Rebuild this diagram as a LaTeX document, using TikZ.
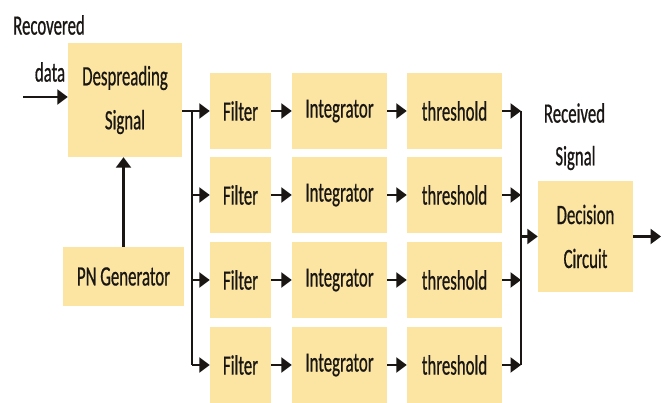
\documentclass[tikz,border=0pt]{standalone}
\usepackage{fontspec}
\setmainfont{Carlito}[FakeStretch=0.6,FakeBold=0.6]
\usetikzlibrary{arrows.meta,calc}
\definecolor{boxfill}{RGB}{252,229,162}
\definecolor{ink}{RGB}{25,22,20}
\begin{document}
\begin{tikzpicture}[x=1pt,y=1pt,
  blk/.style={fill=boxfill,draw=none,inner sep=0pt,text=ink,align=center,
    font=\fontsize{28}{44}\selectfont},
  lbl/.style={inner sep=0pt,text=ink,font=\fontsize{28}{30}\selectfont},
  wire/.style={line width=2.3pt,draw=ink},
  arr/.style={wire,-{Triangle[length=10.5pt,width=15pt]}}]
\useasboundingbox (0,0) rectangle (662,403);
% blocks (image y flipped: Y = 403 - y)
\node[blk,minimum width=114pt,minimum height=114pt] (desp) at (125,303) {\raisebox{-4pt}{\parbox{114pt}{\centering Despreading\\Signal}}};
\node[blk,minimum width=121pt,minimum height=59pt] (pn) at (123.5,126.5) {PN Generator};
\foreach \i/\y in {1/292,2/208,3/123,4/38}{
  \node[blk,minimum width=61pt,minimum height=76pt] (f\i) at (240.5,\y) {Filter};
  \node[blk,minimum width=95pt,minimum height=76pt] (n\i) at (339.5,\y) {Integrator};
  \node[blk,minimum width=95pt,minimum height=76pt] (t\i) at (454.5,\y) {threshold};
}
\node[blk,minimum width=95pt,minimum height=111pt] (dec) at (585.5,166.5) {Decision\\Circuit};
% labels
\node[lbl] (rec) at (49,378) {Recovered};
\node[lbl] (dat) at (50,331) {data};
\node[lbl] (rcv) at (574.5,290) {Received};
\node[lbl] (sig) at (575.5,245) {Signal};
% helper coordinates
\coordinate (in) at (23,306);
\coordinate (bx) at (192,0);
\coordinate (cx) at (521,0);
\coordinate (out) at (661,0);
% connectors
\draw[arr] (in) -- (in -| desp.west);
\draw[arr] (pn.north) -- (pn.north |- desp.south);
\draw[wire] (desp.east |- f1.west) -- (bx |- f1.west);
\draw[wire] (bx |- f1.west) -- (bx |- f4.west);
\foreach \i in {1,2,3,4}{
  \draw[arr] (bx |- f\i.west) -- (f\i.west);
  \draw[arr] (f\i.east) -- (n\i.west);
  \draw[arr] (n\i.east) -- (t\i.west);
  \draw[arr] (t\i.east) -- (cx |- t\i.east);
}
\draw[wire] (cx |- t1.east) -- (cx |- t4.east);
\draw[arr] (cx |- dec.west) -- (dec.west);
\draw[arr] (dec.east) -- (out |- dec.east);
\end{tikzpicture}
\end{document}
